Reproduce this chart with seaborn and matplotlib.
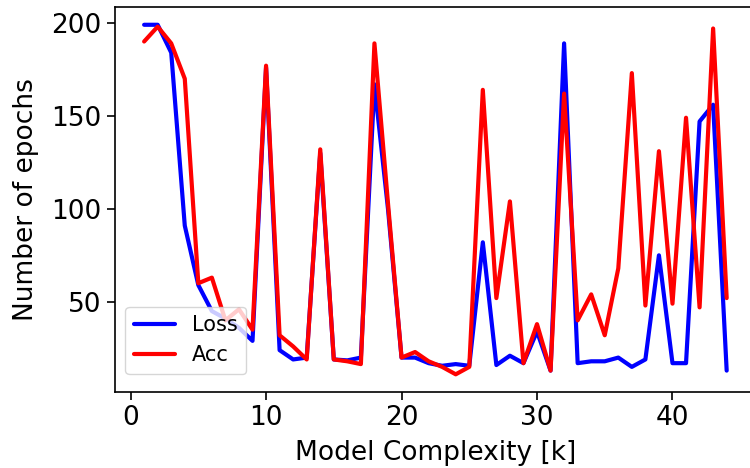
import matplotlib
matplotlib.use("Agg")
import matplotlib.pyplot as plt
import seaborn as sns
import pandas as pd

complexity = list(range(1, 45))
loss_epochs = [199, 199, 184, 91, 59, 45, 41, 36, 29, 176,
               24, 19, 20, 130, 19, 18.5, 20, 167, 100, 20,
               20, 17, 15.6, 16.5, 15.6, 82, 16, 21, 17, 34,
               13, 189, 17, 18, 18, 20, 15, 19, 75, 17,
               17, 147, 156, 13]
acc_epochs = [190, 198, 189, 170, 60, 63, 40, 46, 35, 177,
              32, 26, 19, 132, 19, 18, 16.5, 189, 103, 20,
              23, 18, 15, 11, 15, 164, 52, 104, 17, 38,
              13, 162, 40, 54, 32, 68, 173, 48, 131, 49,
              149, 47, 197, 52]

df = pd.DataFrame({"k": complexity * 2,
                   "epochs": loss_epochs + acc_epochs,
                   "metric": ["Loss"] * len(complexity) + ["Acc"] * len(complexity)})

sns.set_style("ticks")
plt.rcParams["font.family"] = ["DejaVu Sans"]
for key in ["text.color", "axes.labelcolor", "xtick.color", "ytick.color", "axes.edgecolor"]:
    plt.rcParams[key] = "black"

fig = plt.figure(figsize=(7.5, 4.68), dpi=100)
ax = fig.add_axes([115 / 750, (468 - 391.8) / 468, 640.8 / 750, (391.8 - 7.3) / 468])
sns.lineplot(data=df, x="k", y="epochs", hue="metric",
             palette={"Loss": "blue", "Acc": "red"}, linewidth=3, ax=ax)
ax.set_xlabel("Model Complexity [k]", fontsize=19, labelpad=6.5)
ax.set_ylabel("Number of epochs", fontsize=19, labelpad=9)
ax.set_xticks([0, 10, 20, 30, 40])
ax.set_yticks([50, 100, 150, 200])
ax.tick_params(labelsize=19, width=1.2, length=6)
for s in ax.spines.values():
    s.set_linewidth(1.2)
leg = ax.legend(loc="lower left", fontsize=15, frameon=True, fancybox=True,
                framealpha=0.8, edgecolor="0.8", bbox_to_anchor=(0.0, 0.02))
for line in leg.get_lines():
    line.set_linewidth(3)
fig.savefig("out.png", dpi=100)
